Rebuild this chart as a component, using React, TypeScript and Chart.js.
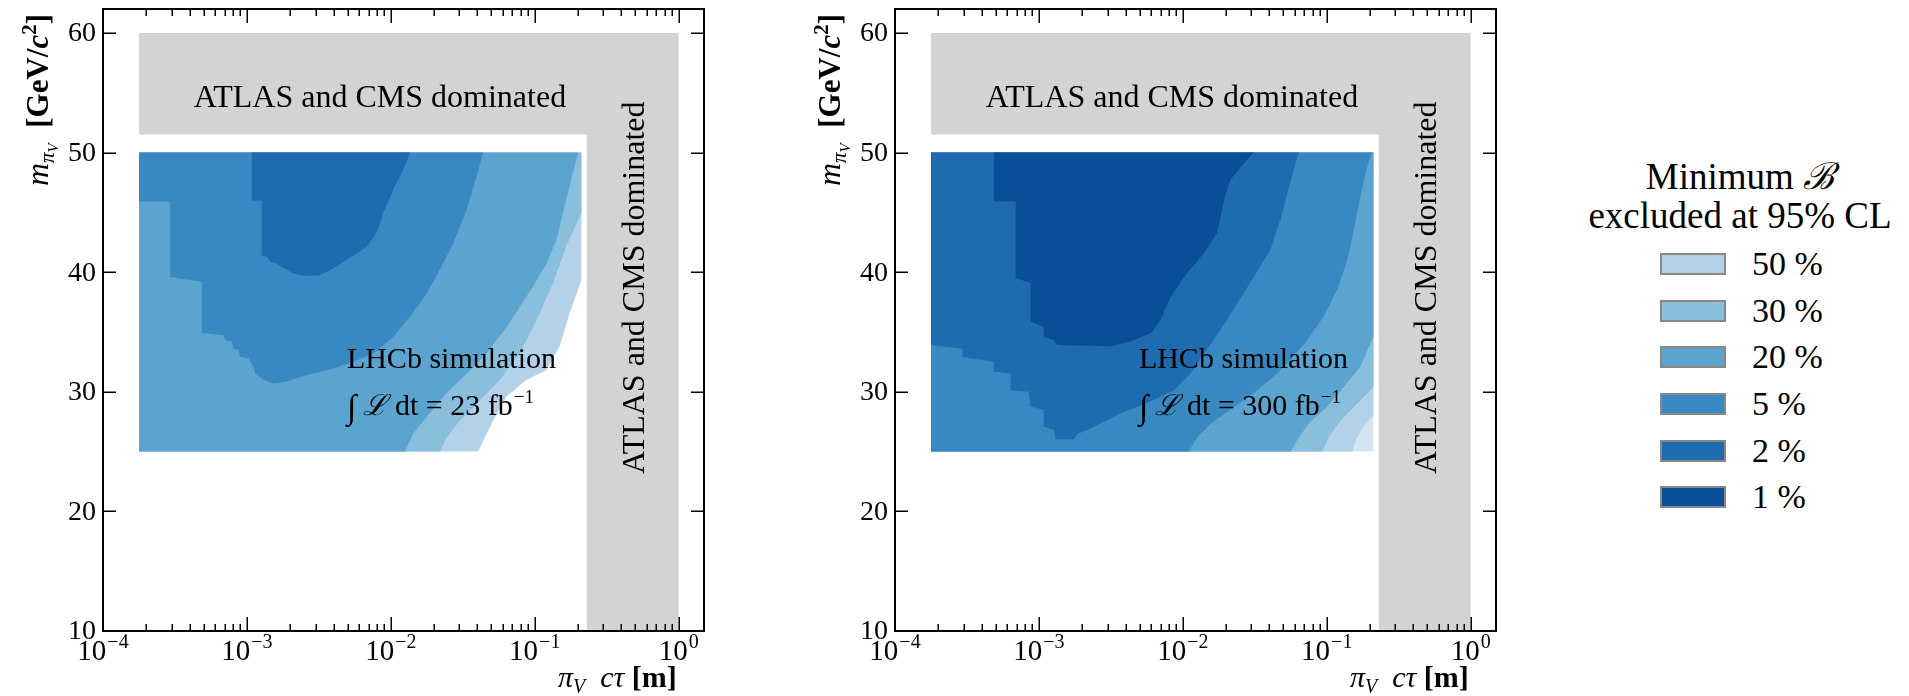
import React, { useEffect, useRef } from 'react';
import { Chart, registerables } from 'chart.js';

Chart.register(...registerables);

type Pt = [number, number];

const SERIF = '"Liberation Serif", "DejaVu Serif", serif';

// ---- axis ticks ----
const X_TICK_EXPONENTS = [-4, -3, -2, -1, 0];
const Y_TICKS = [10, 20, 30, 40, 50, 60];

// ---- legend ----
const LEVEL_LABELS = ['50 %', '30 %', '20 %', '5 %', '2 %', '1 %'];
const LEVEL_COLORS = ['#b3d1e8', '#89bedc', '#5ba4d0', '#3888c1', '#1e6bb0', '#084f98'];
const ABOVE_COLOR = '#d3e4f3';
const GRAY = '#d3d3d3';

// ---- panel luminosities ----
const LUMIS = [23, 300];

// ---- ATLAS/CMS dominated L-shaped region ----
const DOMINATED: Pt[] = [
  [1.78e-4, 60], [1, 60], [1, 10], [0.23, 10], [0.23, 51.5], [1.78e-4, 51.5],
];

// ---- Left panel (23 fb^-1) contour regions: B below level ----
const L_50: Pt[] = [
  [1.78e-4, 25], [4.05e-2, 25], [4.5e-2, 26.2], [5.14e-2, 27.6], [6.37e-2, 29.6], [8.76e-2, 31.0],
  [0.1205, 31.8], [0.149, 33.8], [0.175, 36.6], [0.211, 39.35], [0.211, 50], [1.78e-4, 50],
];
const L_30: Pt[] = [
  [1.78e-4, 25], [2.19e-2, 25], [2.44e-2, 26.2], [3.02e-2, 27.6], [4.15e-2, 29.3], [5.72e-2, 31.0],
  [7.87e-2, 33.2], [0.1028, 36.0], [0.134, 39.1], [0.166, 42.2], [0.211, 45.0], [0.211, 50], [1.78e-4, 50],
];
const L_20: Pt[] = [
  [1.78e-4, 25], [1.25e-2, 25], [1.43e-2, 26.5], [1.77e-2, 27.9], [2.44e-2, 29.9], [3.36e-2, 31.5],
  [4.62e-2, 33.2], [6.37e-2, 35.4], [7.87e-2, 37.1], [9.73e-2, 38.8], [0.1205, 40.7], [0.1416, 42.7],
  [0.157, 44.9], [0.175, 47.2], [0.2, 50], [1.78e-4, 50],
];
const L_5: Pt[] = [
  [1.78e-4, 50], [1.78e-4, 45.9], [2.93e-4, 45.9], [2.93e-4, 39.6], [4.86e-4, 39.2], [4.86e-4, 34.9],
  [6.87e-4, 34.75], [7.06e-4, 34.3], [7.85e-4, 34.2], [8.06e-4, 33.6], [8.73e-4, 33.5], [8.97e-4, 32.9],
  [1.025e-3, 32.8], [1.11e-3, 32.1], [1.14e-3, 31.5], [1.3e-3, 31.0], [1.53e-3, 30.7], [1.89e-3, 30.85],
  [2.6e-3, 31.4], [3.98e-3, 31.95], [5.48e-3, 32.5], [7.55e-3, 33.2], [1.04e-2, 34.6], [1.36e-2, 36.3],
  [1.77e-2, 38.2], [2.19e-2, 40.2], [2.71e-2, 42.4], [3.36e-2, 45.2], [3.94e-2, 48.0], [4.38e-2, 50],
];
const L_2: Pt[] = [
  [1.08e-3, 50], [1.08e-3, 46.0], [1.27e-3, 46.0], [1.27e-3, 41.4], [1.37e-3, 41.3], [1.45e-3, 40.9],
  [1.61e-3, 40.7], [1.7e-3, 40.5], [1.89e-3, 40.2], [2.1e-3, 39.9], [2.4e-3, 39.7], [3.13e-3, 39.7],
  [3.98e-3, 40.3], [5.2e-3, 41.2], [6.79e-3, 42.1], [7.96e-3, 43.3], [8.85e-3, 44.9], [1.04e-2, 46.9],
  [1.22e-2, 48.55], [1.36e-2, 50],
];

// ---- Right panel (300 fb^-1) contour regions ----
const R_ALL: Pt[] = [[1.78e-4, 25], [0.211, 25], [0.211, 50], [1.78e-4, 50]];
const R_50: Pt[] = [
  [1.78e-4, 25], [0.15, 25], [0.1625, 26.2], [0.186, 27.35], [0.211, 28.05], [0.211, 50], [1.78e-4, 50],
];
const R_30: Pt[] = [
  [1.78e-4, 25], [9.29e-2, 25], [0.1033, 26.2], [0.1245, 27.6], [0.1625, 29.0], [0.211, 30.4],
  [0.211, 50], [1.78e-4, 50],
];
const R_20: Pt[] = [
  [1.78e-4, 25], [5.6e-2, 25], [6.39e-2, 26.2], [7.7e-2, 27.5], [0.1007, 28.75], [0.131, 30.4],
  [0.171, 32.1], [0.211, 34.6], [0.211, 50], [1.78e-4, 50],
];
const R_5: Pt[] = [
  [1.78e-4, 25], [1.1e-2, 25], [1.26e-2, 26.2], [1.56e-2, 27.35], [2.13e-2, 28.5], [3.11e-2, 29.9],
  [4.29e-2, 31.3], [5.6e-2, 32.65], [7.31e-2, 34.3], [9.53e-2, 36.3], [0.118, 38.5], [0.1387, 41.0],
  [0.154, 43.5], [0.171, 46.3], [0.1906, 48.8], [0.2065, 50], [1.78e-4, 50],
];
const R_2: Pt[] = [
  [1.78e-4, 50], [1.78e-4, 33.9], [2.94e-4, 33.6], [2.94e-4, 32.9], [4.87e-4, 32.5], [4.87e-4, 31.7],
  [6.36e-4, 31.5], [6.36e-4, 30.1], [8.52e-4, 30.0], [8.75e-4, 28.75], [1.08e-3, 28.5], [1.08e-3, 27.1],
  [1.27e-3, 26.8], [1.31e-3, 26.0], [1.75e-3, 26.0], [1.85e-3, 26.5], [2.17e-3, 26.8], [2.83e-3, 27.5],
  [3.89e-3, 28.3], [5.97e-3, 29.2], [8.66e-3, 30.1], [1.13e-2, 31.5], [1.4e-2, 33.2], [1.83e-2, 35.2],
  [2.39e-2, 37.4], [3.11e-2, 39.6], [4.06e-2, 41.9], [4.77e-2, 44.4], [5.31e-2, 46.6], [5.9e-2, 48.55],
  [6.39e-2, 50],
];
const R_1: Pt[] = [
  [4.87e-4, 50], [4.87e-4, 45.9], [6.89e-4, 45.9], [6.89e-4, 39.5], [8.75e-4, 39.1], [8.75e-4, 35.9],
  [1.08e-3, 35.4], [1.08e-3, 34.6], [1.27e-3, 34.3], [1.34e-3, 33.9], [3.15e-3, 33.8], [4.33e-3, 34.2],
  [5.97e-3, 34.9], [7.0e-3, 36.0], [8.22e-3, 37.95], [1.07e-2, 39.9], [1.4e-2, 41.6], [1.73e-2, 43.25],
  [1.93e-2, 46.0], [2.13e-2, 47.7], [2.66e-2, 49.1], [3.11e-2, 50],
];

type Layer = { poly: Pt[]; color: string };

const LEFT_LAYERS: Layer[] = [
  { poly: L_50, color: LEVEL_COLORS[0] },
  { poly: L_30, color: LEVEL_COLORS[1] },
  { poly: L_20, color: LEVEL_COLORS[2] },
  { poly: L_5, color: LEVEL_COLORS[3] },
  { poly: L_2, color: LEVEL_COLORS[4] },
];
const RIGHT_LAYERS: Layer[] = [
  { poly: R_ALL, color: ABOVE_COLOR },
  { poly: R_50, color: LEVEL_COLORS[0] },
  { poly: R_30, color: LEVEL_COLORS[1] },
  { poly: R_20, color: LEVEL_COLORS[2] },
  { poly: R_5, color: LEVEL_COLORS[3] },
  { poly: R_2, color: LEVEL_COLORS[4] },
  { poly: R_1, color: LEVEL_COLORS[5] },
];

type Seg = { text: string; font: string; dy?: number; dx?: number };

function drawRich(ctx: CanvasRenderingContext2D, segs: Seg[], x: number, y: number, align: 'left' | 'right' | 'center') {
  ctx.textAlign = 'left';
  let total = 0;
  for (const s of segs) {
    ctx.font = s.font;
    total += ctx.measureText(s.text).width + (s.dx || 0);
  }
  let cx = align === 'right' ? x - total : align === 'center' ? x - total / 2 : x;
  for (const s of segs) {
    ctx.font = s.font;
    cx += s.dx || 0;
    ctx.fillText(s.text, cx, y + (s.dy || 0));
    cx += ctx.measureText(s.text).width;
  }
}

function decorPlugin(lumi: number) {
  return {
    id: 'decor',
    afterDatasetsDraw(chart: any) {
      const ctx: CanvasRenderingContext2D = chart.ctx;
      const a = chart.chartArea;
      const xs = chart.scales.x;
      const ys = chart.scales.y;
      ctx.save();
      ctx.fillStyle = '#000';
      ctx.textBaseline = 'alphabetic';

      // annotations
      ctx.font = `32px ${SERIF}`;
      ctx.textAlign = 'center';
      ctx.fillText('ATLAS and CMS dominated', xs.getPixelForValue(8.4e-3), ys.getPixelForValue(53.84));
      ctx.save();
      ctx.translate(xs.getPixelForValue(0.57), ys.getPixelForValue(38.7));
      ctx.rotate(-Math.PI / 2);
      ctx.fillText('ATLAS and CMS dominated', 0, 0);
      ctx.restore();

      ctx.font = `30px ${SERIF}`;
      ctx.textAlign = 'left';
      const tx = xs.getPixelForValue(4.95e-3);
      ctx.fillText('LHCb simulation', tx, ys.getPixelForValue(31.96));
      drawRich(ctx, [
        { text: '\u222B', font: `34px ${SERIF}`, dy: 3 },
        { text: ' \u2112', font: `italic 29px ${SERIF}` },
        { text: ' dt = ' + lumi + ' fb', font: `30px ${SERIF}` },
        { text: '\u22121', font: `19px ${SERIF}`, dy: -12, dx: 1 },
      ], tx, ys.getPixelForValue(28.05), 'left');

      // frame
      ctx.strokeStyle = '#000';
      ctx.lineWidth = 2;
      ctx.strokeRect(a.left, a.top, a.right - a.left, a.bottom - a.top);

      // x ticks
      ctx.lineWidth = 1.5;
      for (const e of X_TICK_EXPONENTS) {
        for (let m = 1; m <= 9; m++) {
          const v = m * Math.pow(10, e);
          if (v > xs.max) break;
          const px = Math.round(xs.getPixelForValue(v)) + 0.25;
          const len = m === 1 ? 14 : 7;
          ctx.beginPath();
          ctx.moveTo(px, a.bottom);
          ctx.lineTo(px, a.bottom - len);
          ctx.moveTo(px, a.top);
          ctx.lineTo(px, a.top + len);
          ctx.stroke();
        }
      }
      // y ticks
      for (const v of Y_TICKS) {
        const py = Math.round(ys.getPixelForValue(v)) + 0.25;
        ctx.beginPath();
        ctx.moveTo(a.left, py);
        ctx.lineTo(a.left + 13, py);
        ctx.moveTo(a.right, py);
        ctx.lineTo(a.right - 13, py);
        ctx.stroke();
      }

      // y tick labels
      ctx.font = `28px ${SERIF}`;
      ctx.textAlign = 'right';
      ctx.textBaseline = 'middle';
      for (const v of Y_TICKS) {
        ctx.fillText(String(v), a.left - 7, ys.getPixelForValue(v) + 1);
      }
      // x tick labels
      ctx.textBaseline = 'alphabetic';
      for (const e of X_TICK_EXPONENTS) {
        const exp = e < 0 ? '\u2212' + Math.abs(e) : String(e);
        drawRich(ctx, [
          { text: '10', font: `29px ${SERIF}` },
          { text: exp, font: `20px ${SERIF}`, dy: -12, dx: 1 },
        ], xs.getPixelForValue(Math.pow(10, e)), a.bottom + 29, 'center');
      }

      // x title
      drawRich(ctx, [
        { text: '\u03C0', font: `italic 30px ${SERIF}` },
        { text: 'V', font: `italic 20px ${SERIF}`, dy: 6 },
        { text: '  c\u03C4 ', font: `italic 30px ${SERIF}` },
        { text: '[m]', font: `bold 30px ${SERIF}` },
      ], xs.getPixelForValue(1) - 2, a.bottom + 56, 'right');

      // y title (rotated, aligned to top)
      ctx.save();
      ctx.translate(a.left - 55, a.top + 5);
      ctx.rotate(-Math.PI / 2);
      drawRich(ctx, [
        { text: 'm', font: `italic 32px ${SERIF}` },
        { text: '\u03C0', font: `italic 21px ${SERIF}`, dy: 6 },
        { text: 'V', font: `italic 15px ${SERIF}`, dy: 10 },
        { text: '  [GeV/', font: `bold 31px ${SERIF}` },
        { text: 'c', font: `bold italic 31px ${SERIF}` },
        { text: '2', font: `bold 21px ${SERIF}`, dy: -12 },
        { text: ']', font: `bold 31px ${SERIF}` },
      ], 0, 0, 'right');
      ctx.restore();

      ctx.restore();
    },
  };
}

function toData(poly: Pt[]) {
  return poly.map(([x, y]) => ({ x, y }));
}

function Panel({ layers, lumi, left }: { layers: Layer[]; lumi: number; left: number }) {
  const ref = useRef<HTMLCanvasElement | null>(null);
  useEffect(() => {
    if (!ref.current) return;
    const all: Layer[] = [{ poly: DOMINATED, color: GRAY }, ...layers];
    const n = all.length;
    const chart = new Chart(ref.current, {
      type: 'line',
      data: {
        datasets: all.map((l, i) => ({
          data: toData(l.poly),
          backgroundColor: l.color,
          borderColor: 'rgba(0,0,0,0)',
          borderWidth: 0,
          pointRadius: 0,
          pointHoverRadius: 0,
          tension: 0,
          fill: 'shape',
          order: n - i,
        })),
      } as any,
      options: {
        animation: false,
        responsive: false,
        devicePixelRatio: 1,
        events: [],
        layout: { padding: { left: 103, right: 56, top: 9, bottom: 65 } },
        scales: {
          x: { type: 'logarithmic', min: 1e-4, max: 1.5, display: false },
          y: { type: 'linear', min: 10, max: 62, display: false },
        },
        plugins: { legend: { display: false }, tooltip: { enabled: false } },
      } as any,
      plugins: [decorPlugin(lumi)],
    });
    return () => chart.destroy();
  }, [layers, lumi]);
  return (
    <canvas
      ref={ref}
      width={760}
      height={696}
      style={{ position: 'absolute', left, top: 0, width: 760, height: 696 }}
    />
  );
}

export default function App() {
  const rowTops = [264, 310.7, 357.3, 404, 450.7, 496.7];
  return (
    <div style={{ position: 'absolute', left: 0, top: 0, width: 1909, height: 696, background: '#fff', overflow: 'hidden' }}>
      <Panel layers={LEFT_LAYERS} lumi={LUMIS[0]} left={0} />
      <Panel layers={RIGHT_LAYERS} lumi={LUMIS[1]} left={792} />
      <div style={{ position: 'absolute', left: 1560, width: 360, top: 157, textAlign: 'center', fontFamily: SERIF, fontSize: 37, lineHeight: '39px', color: '#000', whiteSpace: 'nowrap' }}>
        <div>Minimum <span style={{ fontStyle: 'italic' }}>{'\u212C'}</span></div>
        <div>excluded at 95% CL</div>
      </div>
      {LEVEL_LABELS.map((lab, i) => (
        <React.Fragment key={lab}>
          <div style={{ position: 'absolute', left: 1660, top: rowTops[i] - 11, width: 62, height: 18, background: LEVEL_COLORS[i], border: '2px solid #888' }} />
          <div style={{ position: 'absolute', left: 1752, top: rowTops[i] - 18, fontFamily: SERIF, fontSize: 34, lineHeight: '36px', color: '#000', whiteSpace: 'nowrap' }}>{lab}</div>
        </React.Fragment>
      ))}
    </div>
  );
}
